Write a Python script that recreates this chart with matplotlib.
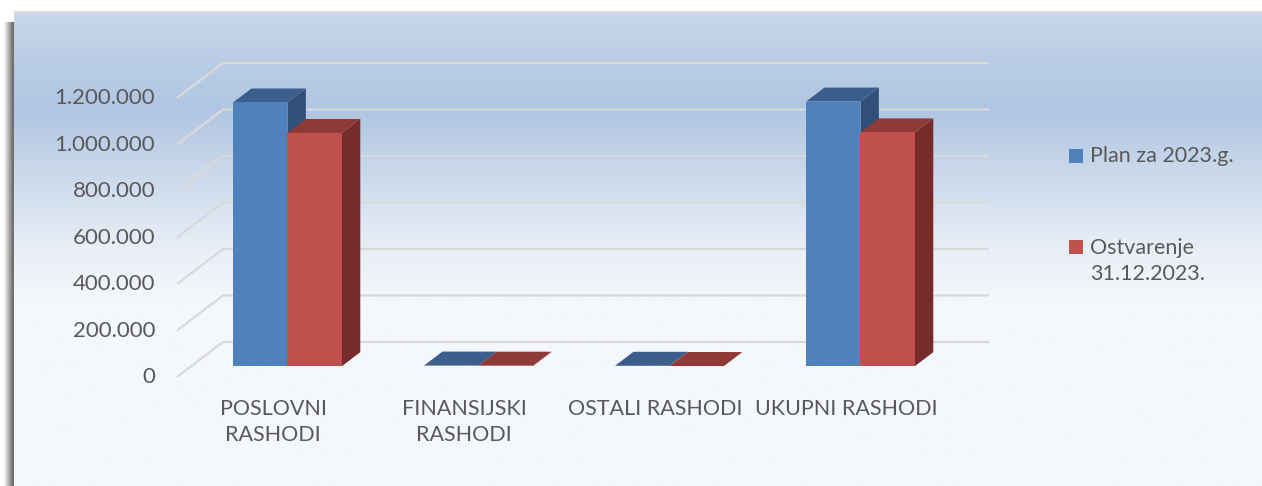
import numpy as np
import matplotlib
matplotlib.use("Agg")
import matplotlib.pyplot as plt
from matplotlib.patches import Polygon, Rectangle

# Data
categories = ["POSLOVNI\nRASHODI", "FINANSIJSKI\nRASHODI", "OSTALI RASHODI", "UKUPNI RASHODI"]
series_names = ["Plan za 2023.g.", "Ostvarenje\n31.12.2023."]
plan = [1134000, 2500, 1500, 1138000]
ostvarenje = [1003000, 2000, 500, 1005500]
ticks = [0, 200000, 400000, 600000, 800000, 1000000, 1200000]
tick_labels = ["0", "200.000", "400.000", "600.000", "800.000", "1.000.000", "1.200.000"]

W, H = 1262, 486

# colours: front, top, side
blue = ("#4f81bd", "#3b5e8c", "#30507a")
red = ("#c0504d", "#8f3a37", "#772c2a")
text_col = "#595959"
grid_col = "#d9d9d9"

# geometry in pixels (only used to set up scales)
PX_CAT = 191.0          # pixels per category
PX_VAL = 46.5 / 200000  # pixels per value unit
DEPTH_DX, DEPTH_DY = 46.0, 35.0  # floor depth offset
X0_FRONT, Y0_FRONT = 273.2, 377.0  # front-plane centre of cat 0, zero line
BAR_W = 0.285
D0, D1 = 0.31, 0.71     # depth range occupied by bars


def main():
    fig = plt.figure(figsize=(W / 100, H / 100), dpi=100)
    fig.patch.set_facecolor("white")

    # background panel with gradient
    bg = fig.add_axes([0, 0, 1, 1])
    bg.set_xlim(0, W)
    bg.set_ylim(H, 0)
    bg.axis("off")
    ys = np.array([13, 60, 110, 180, 250, 300, 486], dtype=float)
    cols = np.array([
        [201, 216, 234],
        [186, 205, 229],
        [176, 198, 226],
        [206, 219, 236],
        [233, 239, 247],
        [244, 247, 251],
        [244, 248, 252],
    ]) / 255.0
    yy = np.arange(13, H)
    grad = np.stack([np.interp(yy, ys, cols[:, k]) for k in range(3)], axis=1)
    img = np.repeat(grad[:, None, :], 2, axis=1)
    bg.imshow(img, extent=[14, W, H, 13], aspect="auto", interpolation="bilinear")
    bg.add_patch(Rectangle((14, 11), W - 14, 2.5, color="#dcdcdc", lw=0))
    for i, a in enumerate(np.linspace(0.05, 0.6, 8)):
        bg.add_patch(Rectangle((4 + i, 22), 1, H - 22, color="black",
                               alpha=a * 0.8, lw=0))
    bg.add_patch(Rectangle((12, 22), 2, H - 22, color="#707070", lw=0))

    # main axes: x in category units, y in value units
    left_px, right_px, top_px, bot_px = 160, 1010, 40, 400
    ax = fig.add_axes([left_px / W, (H - bot_px) / H,
                       (right_px - left_px) / W, (bot_px - top_px) / H])
    ax.set_xlim((left_px - X0_FRONT) / PX_CAT, (right_px - X0_FRONT) / PX_CAT)
    ax.set_ylim(-(bot_px - Y0_FRONT) / PX_VAL, (Y0_FRONT - top_px) / PX_VAL)
    ax.axis("off")
    ax.patch.set_alpha(0)

    ddx = DEPTH_DX / PX_CAT
    ddy = DEPTH_DY / PX_VAL

    # gridlines: diagonal on the left wall, then along the back wall
    gx_front = (177 - X0_FRONT) / PX_CAT
    gx_end = (989 - X0_FRONT) / PX_CAT
    for v, lab in zip(ticks, tick_labels):
        ax.plot([gx_front, gx_front + ddx, gx_end], [v, v + ddy, v + ddy],
                color=grid_col, lw=1.6, solid_capstyle="butt", zorder=1)
        ax.text(gx_front - 22 / PX_CAT, v, lab, ha="right", va="center",
                fontsize=16, color=text_col, family="Lato")

    def bar3d(x0, x1, v, c, z):
        fx0, fx1 = x0 + D0 * ddx, x1 + D0 * ddx
        fy0, fy1 = D0 * ddy, v + D0 * ddy
        bx, by = (D1 - D0) * ddx, (D1 - D0) * ddy
        # right side
        ax.add_patch(Polygon([(fx1, fy0), (fx1 + bx, fy0 + by),
                              (fx1 + bx, fy1 + by), (fx1, fy1)],
                             closed=True, fc=c[2], ec="none", zorder=z))
        # top
        ax.add_patch(Polygon([(fx0, fy1), (fx1, fy1), (fx1 + bx, fy1 + by),
                              (fx0 + bx, fy1 + by)],
                             closed=True, fc=c[1], ec="none", zorder=z))
        # front
        ax.add_patch(Polygon([(fx0, fy0), (fx1, fy0), (fx1, fy1), (fx0, fy1)],
                             closed=True, fc=c[0], ec="none", zorder=z))

    for i in range(len(categories)):
        bar3d(i - BAR_W, i, plan[i], blue, 3)
        bar3d(i, i + BAR_W, ostvarenje[i], red, 4)

    # category labels
    for i, cat in enumerate(categories):
        ax.text(i, -(399 - Y0_FRONT) / PX_VAL, cat, ha="center", va="top",
                fontsize=15.5, color=text_col, family="Lato", linespacing=1.4)

    # legend
    for name, c, yc, ty in zip(series_names, [blue, red], [156, 247], [156, 261]):
        bg.add_patch(Rectangle((1069, yc - 7), 14, 14, color=c[0], lw=0))
        bg.text(1090, ty, name, ha="left", va="center", fontsize=15.5,
                color=text_col, family="Lato", linespacing=1.4)

    fig.savefig("out.png", dpi=100)
    plt.close("all")


if __name__ == '__main__':
    main()
